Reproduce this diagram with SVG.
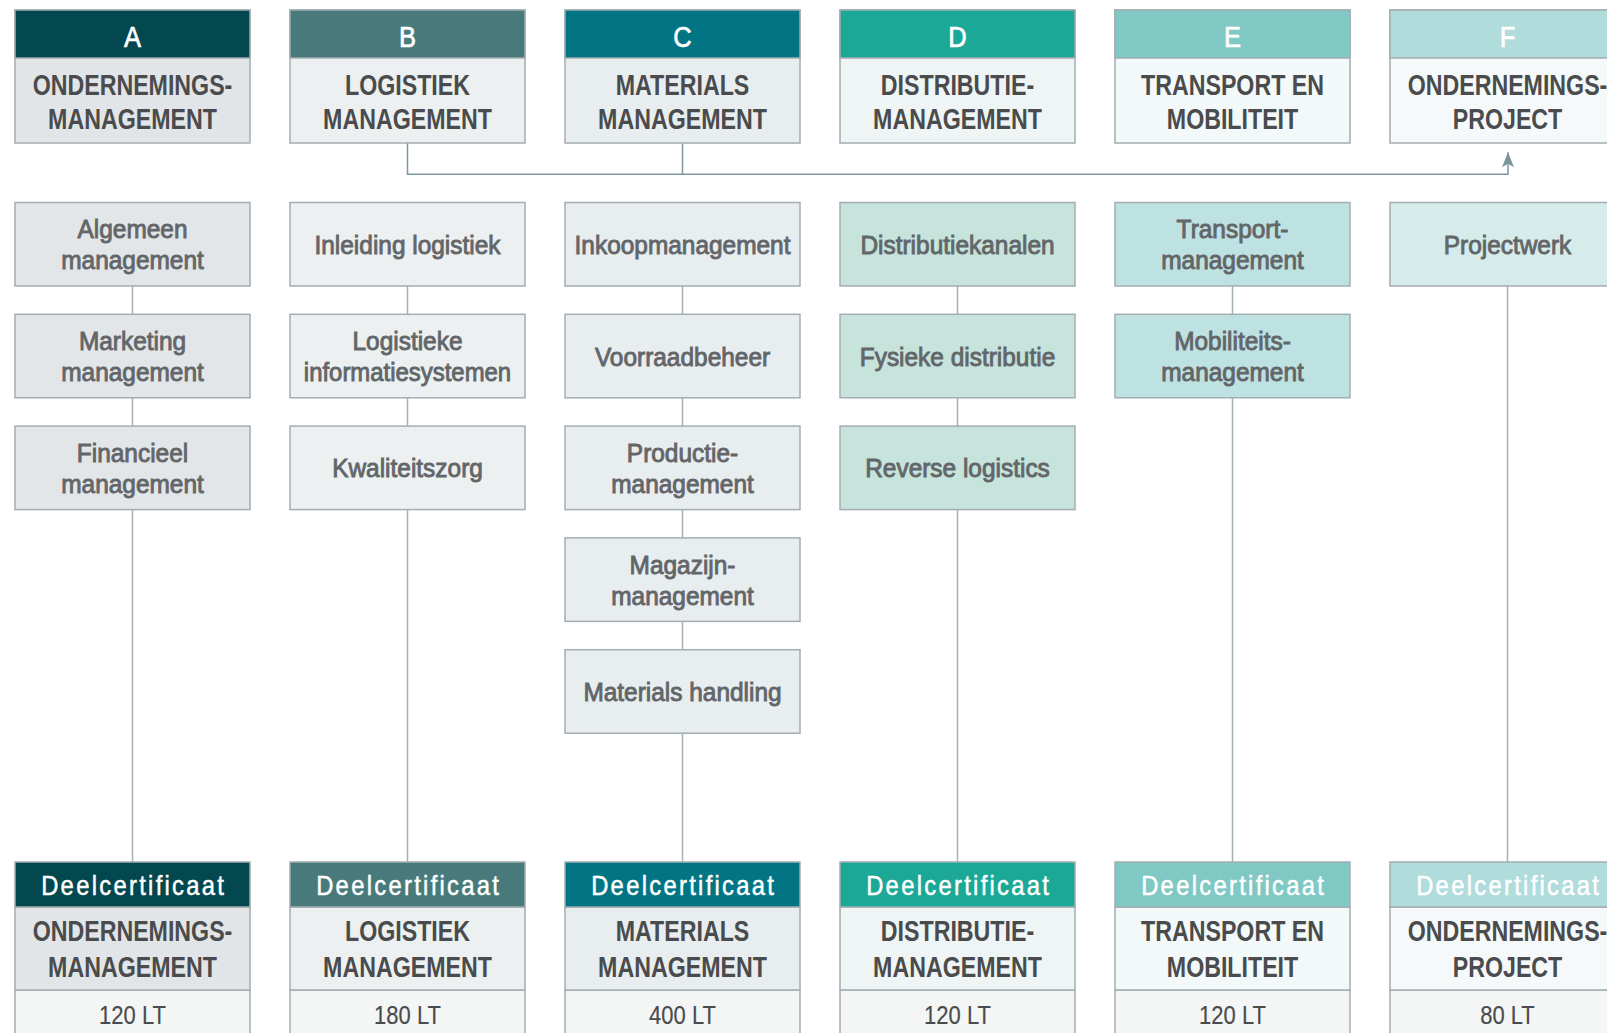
<svg xmlns="http://www.w3.org/2000/svg" width="1607" height="1033" viewBox="0 0 1607 1033">
<defs>
<style>
.bd{stroke:#a3adb3;stroke-width:1.5}
text{font-family:'Liberation Sans',Arial,sans-serif;text-anchor:middle}
.hl{font-size:30px;fill:#ffffff;stroke:#ffffff;stroke-width:0.7}
.tt{font-size:29px;font-weight:bold;fill:#4a4b4d}
.rt{font-size:26px;fill:#636669;stroke:#636669;stroke-width:0.9}
.dc{font-size:28px;fill:#ffffff;stroke:#ffffff;stroke-width:0.5;letter-spacing:2.7px}
.lt{font-size:26.5px;fill:#4a4b4d;stroke:#4a4b4d;stroke-width:0.2}
.cn{fill:none;stroke:#a5b1b7;stroke-width:1.5}
.cm{fill:none;stroke:#7d98a0;stroke-width:1.5}
.lr{fill:#f4f6f6}
</style>
<marker id="arr" markerUnits="userSpaceOnUse" markerWidth="16" markerHeight="16" viewBox="0 -8 16 16" refX="15" refY="0" orient="auto">
<path d="M0,-6 L15,0 L0,6 L3.5,0 Z" fill="#7c939c"/>
</marker>
</defs>
<rect width="1607" height="1033" fill="#ffffff"/>

<g id="connectors">
<path class="cm" d="M407.5,143 V174.3 H1508 V152.3" marker-end="url(#arr)"/>
<path class="cm" d="M682.5,143 V174.3"/>
<path class="cn" d="M132.5,286 V314.3 M132.5,397.8 V426.1 M132.5,509.6 V862"/>
<path class="cn" d="M407.5,286 V314.3 M407.5,397.8 V426.1 M407.5,509.6 V862"/>
<path class="cn" d="M682.5,286 V314.3 M682.5,397.8 V426.1 M682.5,509.6 V537.9 M682.5,621.4 V649.7 M682.5,733.2 V862"/>
<path class="cn" d="M957.5,286 V314.3 M957.5,397.8 V426.1 M957.5,509.6 V862"/>
<path class="cn" d="M1232.5,286 V314.3 M1232.5,397.8 V862"/>
<path class="cn" d="M1507.5,286 V862"/>
</g>

<g id="top-A">
<rect class="bd" x="15" y="10" width="235" height="133" fill="#e2e5e7"/>
<rect class="bd" x="15" y="10" width="235" height="48" fill="#03474f"/>
<text class="hl" transform="translate(132.5,46.5) scale(0.85,1)">A</text>
<text class="tt" transform="translate(132.5,95) scale(0.8,1)">ONDERNEMINGS-</text>
<text class="tt" transform="translate(132.5,129.3) scale(0.8,1)">MANAGEMENT</text>
</g>
<g id="top-B">
<rect class="bd" x="290" y="10" width="235" height="133" fill="#ecf0f1"/>
<rect class="bd" x="290" y="10" width="235" height="48" fill="#487a7b"/>
<text class="hl" transform="translate(407.5,46.5) scale(0.85,1)">B</text>
<text class="tt" transform="translate(407.5,95) scale(0.8,1)">LOGISTIEK</text>
<text class="tt" transform="translate(407.5,129.3) scale(0.8,1)">MANAGEMENT</text>
</g>
<g id="top-C">
<rect class="bd" x="565" y="10" width="235" height="133" fill="#e8edef"/>
<rect class="bd" x="565" y="10" width="235" height="48" fill="#027584"/>
<text class="hl" transform="translate(682.5,46.5) scale(0.85,1)">C</text>
<text class="tt" transform="translate(682.5,95) scale(0.8,1)">MATERIALS</text>
<text class="tt" transform="translate(682.5,129.3) scale(0.8,1)">MANAGEMENT</text>
</g>
<g id="top-D">
<rect class="bd" x="840" y="10" width="235" height="133" fill="#eff5f4"/>
<rect class="bd" x="840" y="10" width="235" height="48" fill="#1ba896"/>
<text class="hl" transform="translate(957.5,46.5) scale(0.85,1)">D</text>
<text class="tt" transform="translate(957.5,95) scale(0.8,1)">DISTRIBUTIE-</text>
<text class="tt" transform="translate(957.5,129.3) scale(0.8,1)">MANAGEMENT</text>
</g>
<g id="top-E">
<rect class="bd" x="1115" y="10" width="235" height="133" fill="#f3f8f8"/>
<rect class="bd" x="1115" y="10" width="235" height="48" fill="#7fc8c3"/>
<text class="hl" transform="translate(1232.5,46.5) scale(0.85,1)">E</text>
<text class="tt" transform="translate(1232.5,95) scale(0.8,1)">TRANSPORT EN</text>
<text class="tt" transform="translate(1232.5,129.3) scale(0.8,1)">MOBILITEIT</text>
</g>
<g id="top-F">
<rect class="bd" x="1390" y="10" width="235" height="133" fill="#f5f9f9"/>
<rect class="bd" x="1390" y="10" width="235" height="48" fill="#b0dcdc"/>
<text class="hl" transform="translate(1507.5,46.5) scale(0.85,1)">F</text>
<text class="tt" transform="translate(1507.5,95) scale(0.8,1)">ONDERNEMINGS-</text>
<text class="tt" transform="translate(1507.5,129.3) scale(0.8,1)">PROJECT</text>
</g>

<g id="A1"><rect class="bd" x="15" y="202.5" width="235" height="83.5" fill="#e3e6e8"/>
<text class="rt" transform="translate(132.5,238.3) scale(0.94,1)">Algemeen</text><text class="rt" transform="translate(132.5,269.3) scale(0.94,1)">management</text></g>
<g id="A2"><rect class="bd" x="15" y="314.3" width="235" height="83.5" fill="#e3e6e8"/>
<text class="rt" transform="translate(132.5,350.1) scale(0.94,1)">Marketing</text><text class="rt" transform="translate(132.5,381.1) scale(0.94,1)">management</text></g>
<g id="A3"><rect class="bd" x="15" y="426.1" width="235" height="83.5" fill="#e3e6e8"/>
<text class="rt" transform="translate(132.5,461.9) scale(0.94,1)">Financieel</text><text class="rt" transform="translate(132.5,492.9) scale(0.94,1)">management</text></g>

<g id="B1"><rect class="bd" x="290" y="202.5" width="235" height="83.5" fill="#ecf0f1"/>
<text class="rt" transform="translate(407.5,253.9) scale(0.94,1)">Inleiding logistiek</text></g>
<g id="B2"><rect class="bd" x="290" y="314.3" width="235" height="83.5" fill="#ecf0f1"/>
<text class="rt" transform="translate(407.5,350.1) scale(0.94,1)">Logistieke</text><text class="rt" transform="translate(407.5,381.1) scale(0.92,1)">informatiesystemen</text></g>
<g id="B3"><rect class="bd" x="290" y="426.1" width="235" height="83.5" fill="#ecf0f1"/>
<text class="rt" transform="translate(407.5,477.4) scale(0.94,1)">Kwaliteitszorg</text></g>

<g id="C1"><rect class="bd" x="565" y="202.5" width="235" height="83.5" fill="#e8edf0"/>
<text class="rt" transform="translate(682.5,253.9) scale(0.94,1)">Inkoopmanagement</text></g>
<g id="C2"><rect class="bd" x="565" y="314.3" width="235" height="83.5" fill="#e8edf0"/>
<text class="rt" transform="translate(682.5,365.6) scale(0.94,1)">Voorraadbeheer</text></g>
<g id="C3"><rect class="bd" x="565" y="426.1" width="235" height="83.5" fill="#e8edf0"/>
<text class="rt" transform="translate(682.5,461.9) scale(0.94,1)">Productie-</text><text class="rt" transform="translate(682.5,492.9) scale(0.94,1)">management</text></g>
<g id="C4"><rect class="bd" x="565" y="537.9" width="235" height="83.5" fill="#e8edf0"/>
<text class="rt" transform="translate(682.5,573.7) scale(0.94,1)">Magazijn-</text><text class="rt" transform="translate(682.5,604.7) scale(0.94,1)">management</text></g>
<g id="C5"><rect class="bd" x="565" y="649.7" width="235" height="83.5" fill="#e8edf0"/>
<text class="rt" transform="translate(682.5,701) scale(0.94,1)">Materials handling</text></g>

<g id="D1"><rect class="bd" x="840" y="202.5" width="235" height="83.5" fill="#c6e3dc"/>
<text class="rt" transform="translate(957.5,253.9) scale(0.94,1)">Distributiekanalen</text></g>
<g id="D2"><rect class="bd" x="840" y="314.3" width="235" height="83.5" fill="#c6e3dc"/>
<text class="rt" transform="translate(957.5,365.6) scale(0.94,1)">Fysieke distributie</text></g>
<g id="D3"><rect class="bd" x="840" y="426.1" width="235" height="83.5" fill="#c6e3dc"/>
<text class="rt" transform="translate(957.5,477.4) scale(0.94,1)">Reverse logistics</text></g>

<g id="E1"><rect class="bd" x="1115" y="202.5" width="235" height="83.5" fill="#bee2e1"/>
<text class="rt" transform="translate(1232.5,238.3) scale(0.94,1)">Transport-</text><text class="rt" transform="translate(1232.5,269.3) scale(0.94,1)">management</text></g>
<g id="E2"><rect class="bd" x="1115" y="314.3" width="235" height="83.5" fill="#bee2e1"/>
<text class="rt" transform="translate(1232.5,350.1) scale(0.94,1)">Mobiliteits-</text><text class="rt" transform="translate(1232.5,381.1) scale(0.94,1)">management</text></g>

<g id="F1"><rect class="bd" x="1390" y="202.5" width="235" height="83.5" fill="#d6ecea"/>
<text class="rt" transform="translate(1507.5,253.9) scale(0.94,1)">Projectwerk</text></g>

<g id="cert-A">
<rect class="bd lr" x="15" y="990" width="235" height="60"/>
<rect class="bd" x="15" y="907" width="235" height="83" fill="#e2e5e7"/>
<rect class="bd" x="15" y="862" width="235" height="45" fill="#03474f"/>
<text class="dc" transform="translate(133.7,894.7) scale(0.85,1)">Deelcertificaat</text>
<text class="tt" transform="translate(132.5,941.3) scale(0.8,1)">ONDERNEMINGS-</text>
<text class="tt" transform="translate(132.5,977) scale(0.8,1)">MANAGEMENT</text>
<text class="lt" transform="translate(132.5,1023.7) scale(0.83,1)">120 LT</text>
</g>
<g id="cert-B">
<rect class="bd lr" x="290" y="990" width="235" height="60"/>
<rect class="bd" x="290" y="907" width="235" height="83" fill="#ecf0f1"/>
<rect class="bd" x="290" y="862" width="235" height="45" fill="#487a7b"/>
<text class="dc" transform="translate(408.7,894.7) scale(0.85,1)">Deelcertificaat</text>
<text class="tt" transform="translate(407.5,941.3) scale(0.8,1)">LOGISTIEK</text>
<text class="tt" transform="translate(407.5,977) scale(0.8,1)">MANAGEMENT</text>
<text class="lt" transform="translate(407.5,1023.7) scale(0.83,1)">180 LT</text>
</g>
<g id="cert-C">
<rect class="bd lr" x="565" y="990" width="235" height="60"/>
<rect class="bd" x="565" y="907" width="235" height="83" fill="#e8edef"/>
<rect class="bd" x="565" y="862" width="235" height="45" fill="#027584"/>
<text class="dc" transform="translate(683.7,894.7) scale(0.85,1)">Deelcertificaat</text>
<text class="tt" transform="translate(682.5,941.3) scale(0.8,1)">MATERIALS</text>
<text class="tt" transform="translate(682.5,977) scale(0.8,1)">MANAGEMENT</text>
<text class="lt" transform="translate(682.5,1023.7) scale(0.83,1)">400 LT</text>
</g>
<g id="cert-D">
<rect class="bd lr" x="840" y="990" width="235" height="60"/>
<rect class="bd" x="840" y="907" width="235" height="83" fill="#eff5f4"/>
<rect class="bd" x="840" y="862" width="235" height="45" fill="#1ba896"/>
<text class="dc" transform="translate(958.7,894.7) scale(0.85,1)">Deelcertificaat</text>
<text class="tt" transform="translate(957.5,941.3) scale(0.8,1)">DISTRIBUTIE-</text>
<text class="tt" transform="translate(957.5,977) scale(0.8,1)">MANAGEMENT</text>
<text class="lt" transform="translate(957.5,1023.7) scale(0.83,1)">120 LT</text>
</g>
<g id="cert-E">
<rect class="bd lr" x="1115" y="990" width="235" height="60"/>
<rect class="bd" x="1115" y="907" width="235" height="83" fill="#f3f8f8"/>
<rect class="bd" x="1115" y="862" width="235" height="45" fill="#7fc8c3"/>
<text class="dc" transform="translate(1233.7,894.7) scale(0.85,1)">Deelcertificaat</text>
<text class="tt" transform="translate(1232.5,941.3) scale(0.8,1)">TRANSPORT EN</text>
<text class="tt" transform="translate(1232.5,977) scale(0.8,1)">MOBILITEIT</text>
<text class="lt" transform="translate(1232.5,1023.7) scale(0.83,1)">120 LT</text>
</g>
<g id="cert-F">
<rect class="bd lr" x="1390" y="990" width="235" height="60"/>
<rect class="bd" x="1390" y="907" width="235" height="83" fill="#f5f9f9"/>
<rect class="bd" x="1390" y="862" width="235" height="45" fill="#b0dcdc"/>
<text class="dc" transform="translate(1508.7,894.7) scale(0.85,1)">Deelcertificaat</text>
<text class="tt" transform="translate(1507.5,941.3) scale(0.8,1)">ONDERNEMINGS-</text>
<text class="tt" transform="translate(1507.5,977) scale(0.8,1)">PROJECT</text>
<text class="lt" transform="translate(1507.5,1023.7) scale(0.83,1)">80 LT</text>
</g>
</svg>
